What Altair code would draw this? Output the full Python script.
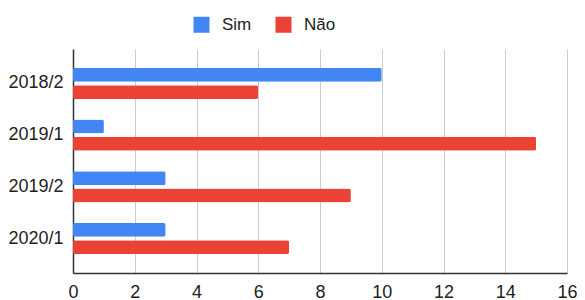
import altair as alt
import pandas as pd

periods = ["2018/2", "2019/1", "2019/2", "2020/1"]
series = ["Sim", "Não"]
sim_values = [10, 1, 3, 3]
nao_values = [6, 15, 9, 7]
colors = ["#4285F4", "#EA4335"]
x_ticks = [0, 2, 4, 6, 8, 10, 12, 14, 16]

rows = []
for p, s, n in zip(periods, sim_values, nao_values):
    rows.append({"Período": p, "Resposta": "Sim", "Valor": s})
    rows.append({"Período": p, "Resposta": "Não", "Valor": n})
df = pd.DataFrame(rows)

FONT = "Liberation Sans, Arial, sans-serif"

chart = alt.Chart(df).mark_bar(cornerRadius=2).encode(
    y=alt.Y("Período:N", sort=periods, title=None,
            scale=alt.Scale(paddingInner=0.4, paddingOuter=0.365),
            axis=alt.Axis(ticks=False, labelPadding=10, labelFontSize=18,
                          labelColor="#222222", domainColor="#333333",
                          domainWidth=1.5, grid=False)),
    yOffset=alt.YOffset("Resposta:N", sort=series,
                        scale=alt.Scale(paddingInner=0.2, paddingOuter=0)),
    x=alt.X("Valor:Q", title=None,
            scale=alt.Scale(domain=[0, 16], nice=False),
            axis=alt.Axis(values=x_ticks, ticks=False, labelPadding=10,
                          labelFlush=False,
                          labelFontSize=18, labelColor="#222222",
                          domainColor="#333333", domainWidth=1.5,
                          gridColor="#cccccc", gridWidth=1)),
    color=alt.Color("Resposta:N", sort=series,
                    scale=alt.Scale(domain=series, range=colors),
                    legend=alt.Legend(title=None, orient="none", legendX=120,
                                      legendY=-33, direction="horizontal",
                                      symbolType="square", symbolSize=256,
                                      symbolStrokeWidth=0, labelFontSize=17,
                                      labelColor="#222222", labelOffset=12,
                                      columnPadding=23)),
).properties(
    width=494, height=224,
    autosize=alt.AutoSizeParams(type="none"),
    padding={"left": 65, "top": 41, "right": 10, "bottom": 27},
).configure(font=FONT).configure_view(stroke=None)

chart.save("out.html", embed_options={"renderer": "svg", "actions": False})
